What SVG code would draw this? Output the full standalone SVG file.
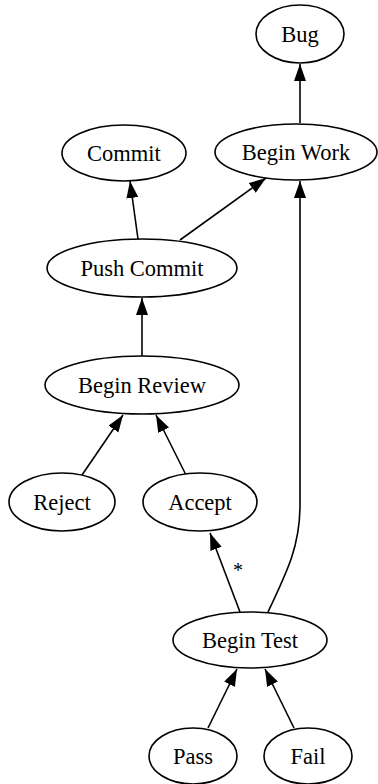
<svg xmlns="http://www.w3.org/2000/svg" width="378" height="784" viewBox="0 0 378 784">
<style>
.n ellipse{fill:#fff;stroke:#000;stroke-width:1.6}
.n text{font-family:"Liberation Serif","Times New Roman",serif;font-size:22.5px;text-anchor:middle;fill:#000}
.e path{fill:none;stroke:#000;stroke-width:1.6;marker-end:url(#ah)}
.lbl{font-family:"Liberation Serif","Times New Roman",serif;font-size:20px;text-anchor:middle;fill:#000}
</style>
<defs>
<marker id="ah" markerUnits="userSpaceOnUse" markerWidth="18" markerHeight="13" refX="17" refY="6" orient="auto" viewBox="0 0 18 13">
<path d="M0,0 L17,6 L0,12 z" fill="#000"/>
</marker>
</defs>
<rect width="378" height="784" fill="#fff"/>
<g id="edges" class="e">
<path d="M300,123 L300,64"/>
<path d="M138,239 L130,181"/>
<path d="M180,240 L266,178"/>
<path d="M142,356 L142,298"/>
<path d="M82,475 L123,415"/>
<path d="M186,475 L156,415"/>
<path d="M240,612 L210,533"/>
<path d="M268,612 C288,570 300,545 300,505 L300,181"/>
<path d="M208,728 L237,669"/>
<path d="M294,728 L265,669"/>
<text class="lbl" x="238" y="577">*</text>
</g>
<g id="bug" class="n"><ellipse cx="300" cy="34" rx="44" ry="29"/><text x="300" y="41.5">Bug</text></g>
<g id="beginwork" class="n"><ellipse cx="296" cy="152" rx="81" ry="28"/><text x="296" y="159.5">Begin Work</text></g>
<g id="commit" class="n"><ellipse cx="124" cy="153" rx="62" ry="28"/><text x="124" y="160.5">Commit</text></g>
<g id="pushcommit" class="n"><ellipse cx="142" cy="268" rx="95" ry="29"/><text x="142" y="275.5">Push Commit</text></g>
<g id="beginreview" class="n"><ellipse cx="142" cy="385" rx="97" ry="29"/><text x="142" y="392.5">Begin Review</text></g>
<g id="reject" class="n"><ellipse cx="62" cy="502" rx="53" ry="29"/><text x="62" y="509.5">Reject</text></g>
<g id="accept" class="n"><ellipse cx="200" cy="502" rx="57" ry="29"/><text x="200" y="509.5">Accept</text></g>
<g id="begintest" class="n"><ellipse cx="250" cy="640" rx="77" ry="28"/><text x="250" y="647.5">Begin Test</text></g>
<g id="pass" class="n"><ellipse cx="193" cy="756" rx="44" ry="28"/><text x="193" y="763.5">Pass</text></g>
<g id="fail" class="n"><ellipse cx="308" cy="756" rx="44" ry="28"/><text x="308" y="763.5">Fail</text></g>
</svg>
